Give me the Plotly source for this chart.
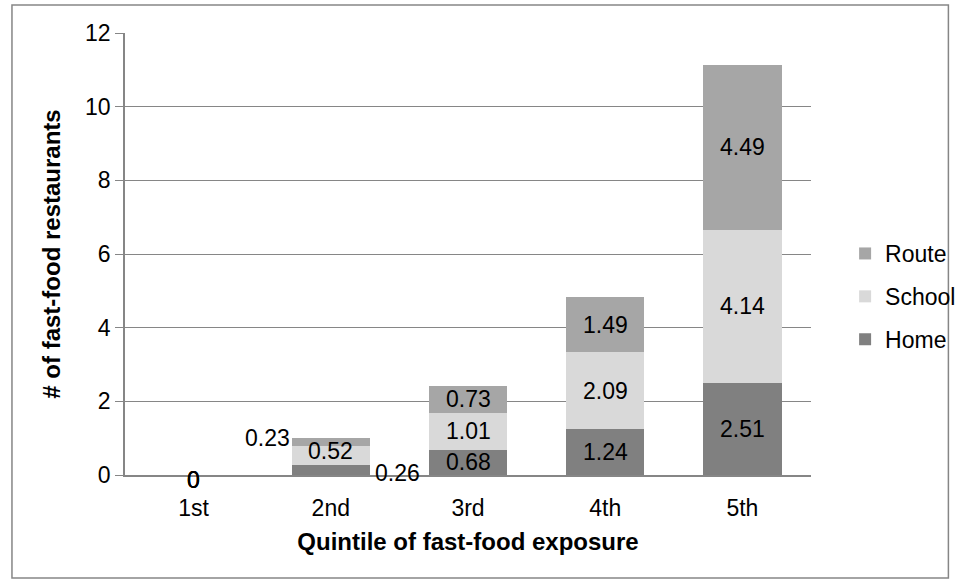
import plotly.graph_objects as go

# Quintiles of fast-food exposure and mean number of restaurants by location
quintiles = ["1st", "2nd", "3rd", "4th", "5th"]
home = [0, 0.26, 0.68, 1.24, 2.51]
school = [0, 0.52, 1.01, 2.09, 4.14]
route = [0, 0.23, 0.73, 1.49, 4.49]

series = [
    ("Home", home, "#808080"),
    ("School", school, "#d9d9d9"),
    ("Route", route, "#a6a6a6"),
]

W, H = 973, 583
L, R, T, B = 125, 144, 33, 108
FONT = "Liberation Sans, Arial, sans-serif"
LABEL_SIZE = 23
TITLE_SIZE = 24

fig = go.Figure()
for k, (name, vals, col) in enumerate(series):
    fig.add_trace(go.Bar(
        x=quintiles, y=vals, name=name, marker_color=col,
        marker_line_width=0, legendgroup=name, legendrank=len(series) - k,
        hoverinfo="skip",
    ))

# value labels at the middle of each stacked segment
annotations = []
base = [0.0] * len(quintiles)
for name, vals, col in series:
    for i, (q, v) in enumerate(zip(quintiles, vals)):
        mid = base[i] + v / 2
        ann = dict(x=q, y=mid, text=f"{v:g}" if v else "0", showarrow=False,
                   font=dict(family=FONT, size=LABEL_SIZE, color="#000000"),
                   xanchor="center", yanchor="middle")
        if v == 0:
            ann["yshift"] = -5
        elif v < 0.3 and name == "Route":
            ann.update(xanchor="right", xshift=-39, yshift=4)
        elif v < 0.3 and name == "Home":
            ann.update(xanchor="left", xshift=42, yshift=-3)
        elif v < 0.6 and name == "School":
            ann["yshift"] = 5
        annotations.append(ann)
        base[i] += v

fig.update_layout(
    width=W, height=H, autosize=False,
    margin=dict(l=L, r=R, t=T, b=B, pad=0),
    paper_bgcolor="white", plot_bgcolor="white",
    barmode="stack", bargap=0.43,
    font=dict(family=FONT, size=LABEL_SIZE, color="#000000"),
    xaxis=dict(
        showgrid=False, showline=True, linecolor="#868686", linewidth=1.5,
        ticks="", ticklabelstandoff=12,
        tickfont=dict(size=LABEL_SIZE),
        title=dict(text="<b>Quintile of fast-food exposure</b>",
                   font=dict(size=TITLE_SIZE), standoff=13),
    ),
    yaxis=dict(
        range=[0, 12], dtick=2, showgrid=True, gridcolor="#868686", gridwidth=1.2,
        showline=True, linecolor="#868686", linewidth=1.5,
        ticks="outside", ticklen=8, tickcolor="#868686", tickwidth=1.2,
        tickfont=dict(size=LABEL_SIZE), zeroline=False,
        title=dict(text="<b># of fast-food restaurants</b>",
                   font=dict(size=TITLE_SIZE), standoff=18),
    ),
    legend=dict(
        x=(864 - L) / (W - L - R), y=1 - (232 - T) / (H - T - B),
        xanchor="left", yanchor="top",
        traceorder="grouped", tracegroupgap=10,
        font=dict(size=LABEL_SIZE), bgcolor="rgba(0,0,0,0)",
        itemwidth=30,
    ),
    annotations=annotations,
)

# chart frame
pw, ph = W - L - R, H - T - B
fig.add_shape(
    type="rect", xref="paper", yref="paper",
    x0=(9 - L) / pw, x1=(970 - L) / pw,
    y0=1 - (578 - T) / ph, y1=1 - (5 - T) / ph,
    line=dict(color="#868686", width=1.5), fillcolor="rgba(0,0,0,0)", layer="below",
)

fig.write_html(
    "out.html",
    config={"displayModeBar": False},
    post_script="document.documentElement.style.overflow='hidden';"
                "document.body.style.margin='0';document.body.style.overflow='hidden';",
)
